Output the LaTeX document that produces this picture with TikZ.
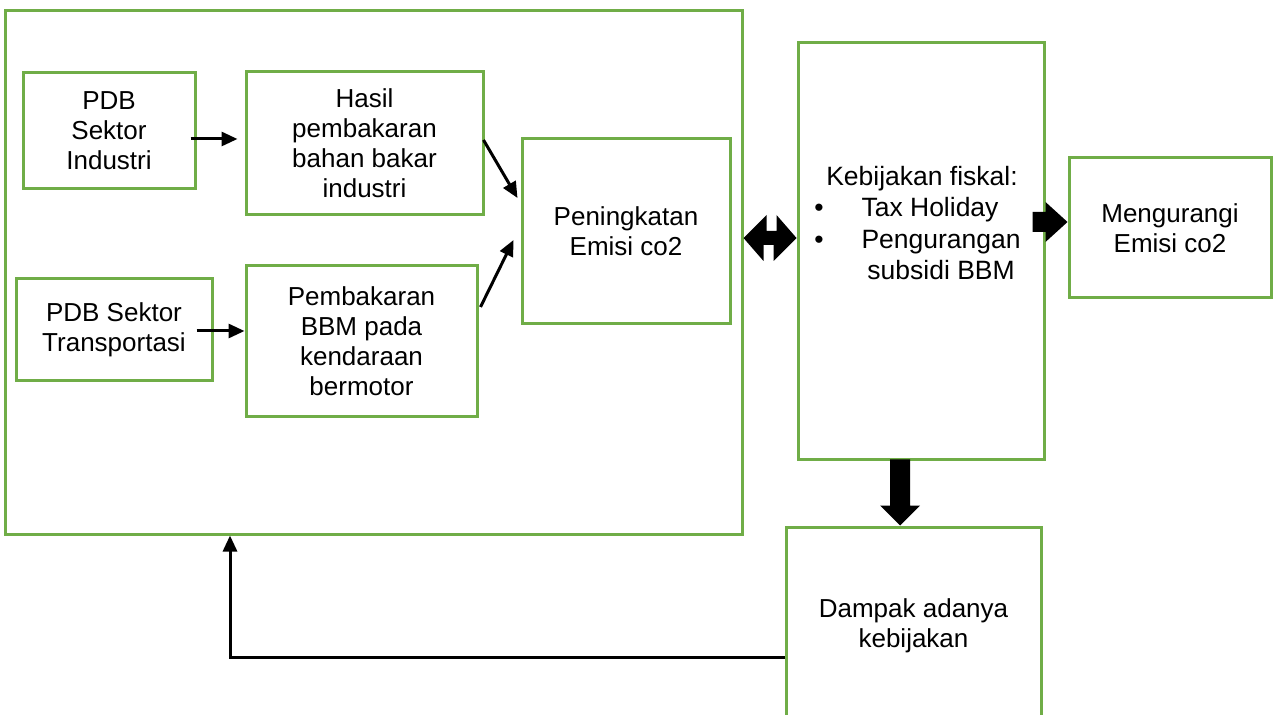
\documentclass[tikz,border=0pt]{standalone}
\usepackage{fontspec}
\setmainfont{Liberation Sans}
\usetikzlibrary{arrows.meta,calc}
\definecolor{boxgreen}{HTML}{70AD47}
\newlength{\pengw}
\begin{document}
\begin{tikzpicture}[x=0.5pt,y=-0.5pt,
  box/.style={draw=boxgreen, line width=1.5pt, fill=white, inner sep=0pt, align=center,
    font=\fontsize{13pt}{15pt}\selectfont},
  txt/.style={inner sep=0pt, align=center, font=\fontsize{13.25pt}{15.75pt}\selectfont},
  arr/.style={line width=1.5pt, -{Triangle[length=8pt,width=7pt]}},
  fat/.style={fill=black, draw=none}]
\useasboundingbox (0,0) rectangle (1273,715);
\clip (0,0) rectangle (1273,715);

% outer box
\node[box, minimum width=368.5pt, minimum height=261.5pt] (big) at (373.5,272.5) {};

% inner boxes
\node[box, minimum width=86pt,  minimum height=58pt]   (ind)   at (109,131)    {PDB\\Sektor\\Industri};
\node[box, minimum width=118.5pt, minimum height=71.5pt] (hasil) at (364.5,143.5) {Hasil\\pembakaran\\bahan bakar\\industri};
\node[box, minimum width=104pt, minimum height=92.5pt] (pen)   at (626,231.5)  {Peningkatan\\Emisi co2};
\node[box, minimum width=98pt,  minimum height=51pt]   (trans) at (114,330)    {PDB Sektor\\Transportasi};
\node[box, minimum width=115.5pt, minimum height=75.5pt] (pemb) at (361.5,341.5) {Pembakaran\\BBM pada\\kendaraan\\bermotor};

% right side boxes
\node[box, minimum width=123pt, minimum height=208.5pt] (keb) at (921,251.5) {};
\node[txt] (kebtxt) at (922,226) {%
  \settowidth{\pengw}{Pengurangan}%
  \begin{tabular}{@{}l@{\hspace{19pt}}l@{}}
  \multicolumn{2}{c}{Kebijakan fiskal:}\\
  •&Tax Holiday\\
  •&Pengurangan\\
  &\makebox[\pengw][c]{subsidi BBM}
  \end{tabular}};
\node[box, minimum width=101pt, minimum height=70pt] (meng) at (1170,228) {Mengurangi\\Emisi co2};
\node[box, minimum width=127.5pt, minimum height=99pt] (damp) at (913.5,626) {Dampak adanya\\kebijakan};

% thin arrows
\draw[arr] ($(ind.east)+(-6,8)$) -- ($(hasil.west)+(-7,-4.5)$);
\draw[arr] ($(trans.east)+(-17,1)$) -- ($(pemb.west)+(0,-10.5)$);
\draw[arr] ($(hasil.east)+(-1,-3.5)$) -- ($(pen.west)+(-3,-33.5)$);
\draw[arr] ($(pemb.east)+(2,-34.5)$) -- ($(pen.west)+(-7,8.5)$);

% feedback arrow
\draw[arr] (damp.west |- 0,657) -| ($(big.south)+(-143.5,0)$);

% fat double arrow between big box and policy box
\path (big.east |- 0,238) coordinate (dA) (keb.west |- 0,238) coordinate (dB);
\fill[fat] (dA) -- ++(23,-23) -- ++(0,16) -- ++(10,0) -- ++(0,-16) -- (dB)
  -- ++(-23,23) -- ++(0,-16) -- ++(-10,0) -- ++(0,16) -- cycle;

% fat arrow to Mengurangi
\path (meng.west |- 0,222) coordinate (rT);
\fill[fat] (rT) -- ++(-22,-20) -- ++(0,10) -- ++(-13,0) -- ++(0,20) -- ++(13,0) -- ++(0,10) -- cycle;

% fat arrow down to Dampak
\path (damp.north -| 900,0) coordinate (dT);
\fill[fat] (dT) -- ++(-20,-20) -- ++(10,0) -- ++(0,-46) -- ++(20,0) -- ++(0,46) -- ++(10,0) -- cycle;
\end{tikzpicture}
\end{document}
